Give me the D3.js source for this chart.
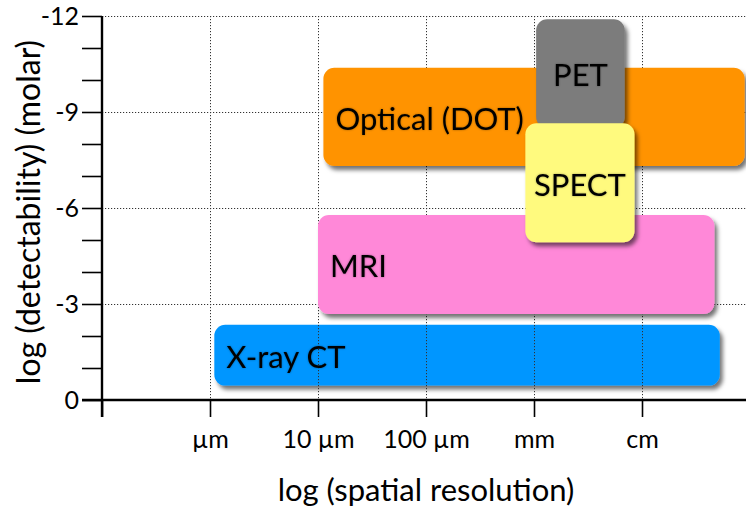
<!DOCTYPE html>
<html>
<head>
<meta charset="utf-8">
<script src="https://cdn.jsdelivr.net/npm/d3@7"></script>
<style>
  html, body { margin: 0; padding: 0; background: #fff; }
  svg { display: block; font-family: "Lato", "Open Sans", sans-serif; }
</style>
</head>
<body>
<svg id="chart" width="746" height="513"></svg>
<script>
// Imaging modalities: spatial resolution (log10 metres) vs detectability (log10 molar)
const modalities = ["X-ray CT", "Optical (DOT)", "PET", "MRI", "SPECT"];
const resMin  = [-5.96, -4.95, -2.98, -5.00, -3.08];
const resMax  = [-1.28, -1.05, -2.16, -1.33, -2.07];
const detHigh = [-2.35, -10.38, -11.90, -5.78, -8.65];   // most sensitive end
const detLow  = [-0.45, -7.31, -8.50, -2.69, -4.93];
const colors  = ["#0096ff", "#ff9300", "#7b7b7b", "#ff88d8", "#fffa7e"];
const labelAnchor = ["start", "start", "middle", "start", "middle"];

const xTickValues = [-7, -6, -5, -4, -3, -2];
const xTickLabels = ["", "µm", "10 µm", "100 µm", "mm", "cm"];
const yTickValues = [-12, -11, -10, -9, -8, -7, -6, -5, -4, -3, -2, -1, 0];
const yLabelValues = [-12, -9, -6, -3, 0];

const svg = d3.select("#chart");
const x = d3.scaleLinear().domain([-7, -1]).range([102, 750]);
const y = d3.scaleLinear().domain([0, -12]).range([400, 16]);

const defs = svg.append("defs");
defs.append("filter").attr("id", "shadow")
  .attr("x", "-10%").attr("y", "-10%").attr("width", "125%").attr("height", "130%")
  .append("feDropShadow")
  .attr("dx", 3).attr("dy", 4).attr("stdDeviation", 2.2)
  .attr("flood-color", "#000").attr("flood-opacity", 0.55);
defs.append("filter").attr("id", "textglow")
  .attr("x", "-10%").attr("y", "-20%").attr("width", "120%").attr("height", "140%")
  .append("feDropShadow")
  .attr("dx", 0).attr("dy", 0).attr("stdDeviation", 1.2)
  .attr("flood-color", "#000").attr("flood-opacity", 0.35);

const rows = modalities.map((name, i) => ({
  name, x0: resMin[i], x1: resMax[i], yTop: detHigh[i], yBot: detLow[i],
  color: colors[i], anchor: labelAnchor[i]
}));

function drawBox(g, d) {
  const bx = x(d.x0), bw = x(d.x1) - x(d.x0);
  const by = y(d.yTop), bh = y(d.yBot) - y(d.yTop);
  g.append("rect")
    .attr("x", bx).attr("y", by).attr("width", bw).attr("height", bh)
    .attr("rx", 11).attr("ry", 11)
    .attr("fill", d.color)
    .attr("filter", "url(#shadow)");
}

// the CT band sits underneath the grid
const under = svg.append("g");
drawBox(under, rows[0]);

// dotted grid
const grid = svg.append("g").attr("stroke", "#333").attr("stroke-width", 1)
  .attr("stroke-dasharray", "1.2,1.8");
xTickValues.slice(1).forEach(v => {
  grid.append("line").attr("x1", x(v) + 0.5).attr("x2", x(v) + 0.5)
    .attr("y1", y(-12)).attr("y2", y(0));
});
yLabelValues.slice(0, -1).forEach(v => {
  grid.append("line").attr("x1", x(-7)).attr("x2", 746)
    .attr("y1", y(v) + 0.5).attr("y2", y(v) + 0.5);
});

// remaining bands, drawn in stacking order
const over = svg.append("g");
[1, 2, 3, 4].forEach(i => drawBox(over, rows[i]));

// band labels
const labels = svg.append("g").attr("fill", "#000").attr("font-size", 31);
rows.forEach(d => {
  const cx = d.anchor === "middle" ? (x(d.x0) + x(d.x1)) / 2 : x(d.x0) + 12;
  let cy = (y(d.yTop) + y(d.yBot)) / 2 + 2;
  if (d.name === "PET") cy = y(d.yTop) + 56;
  labels.append("text")
    .attr("x", cx).attr("y", cy)
    .attr("dy", "0.35em")
    .attr("text-anchor", d.anchor)
    .attr("filter", "url(#textglow)")
    .text(d.name);
});

// axes
const yAxis = d3.axisLeft(y).tickValues(yTickValues).tickSize(20)
  .tickFormat(v => yLabelValues.includes(v) ? d3.format("d")(v).replace("−", "-") : "");
svg.append("g").attr("transform", `translate(${x(-7)},0)`).call(yAxis)
  .call(g => g.select(".domain").remove())
  .call(g => g.selectAll(".tick line").attr("stroke", "#000").attr("stroke-width", 1.6))
  .call(g => g.selectAll(".tick text").attr("font-size", 25).attr("font-family", "Lato, sans-serif")
    .attr("fill", "#000").attr("x", -23));

const xAxis = d3.axisBottom(x).tickValues(xTickValues).tickSize(17)
  .tickFormat((v, i) => xTickLabels[i]);
svg.append("g").attr("transform", `translate(0,${y(0)})`).call(xAxis)
  .call(g => g.select(".domain").remove())
  .call(g => g.selectAll(".tick line").attr("stroke", "#000").attr("stroke-width", 1.6))
  .call(g => g.selectAll(".tick text").attr("font-size", 25).attr("font-family", "Lato, sans-serif")
    .attr("fill", "#000").attr("y", 30));

// axis lines
svg.append("line").attr("x1", x(-7)).attr("x2", x(-7))
  .attr("y1", y(-12)).attr("y2", y(0) + 17)
  .attr("stroke", "#000").attr("stroke-width", 2.4);
svg.append("line").attr("x1", x(-7) - 20).attr("x2", 746)
  .attr("y1", y(0)).attr("y2", y(0))
  .attr("stroke", "#000").attr("stroke-width", 2.4);

// axis titles
svg.append("text").attr("x", 426).attr("y", 501)
  .attr("text-anchor", "middle").attr("font-size", 31).attr("fill", "#000")
  .text("log (spatial resolution)");
svg.append("text")
  .attr("transform", `translate(40,${(y(-12) + y(0)) / 2 + 4}) rotate(-90)`)
  .attr("text-anchor", "middle").attr("font-size", 32).attr("fill", "#000")
  .text("log (detectability) (molar)");
</script>
</body>
</html>
